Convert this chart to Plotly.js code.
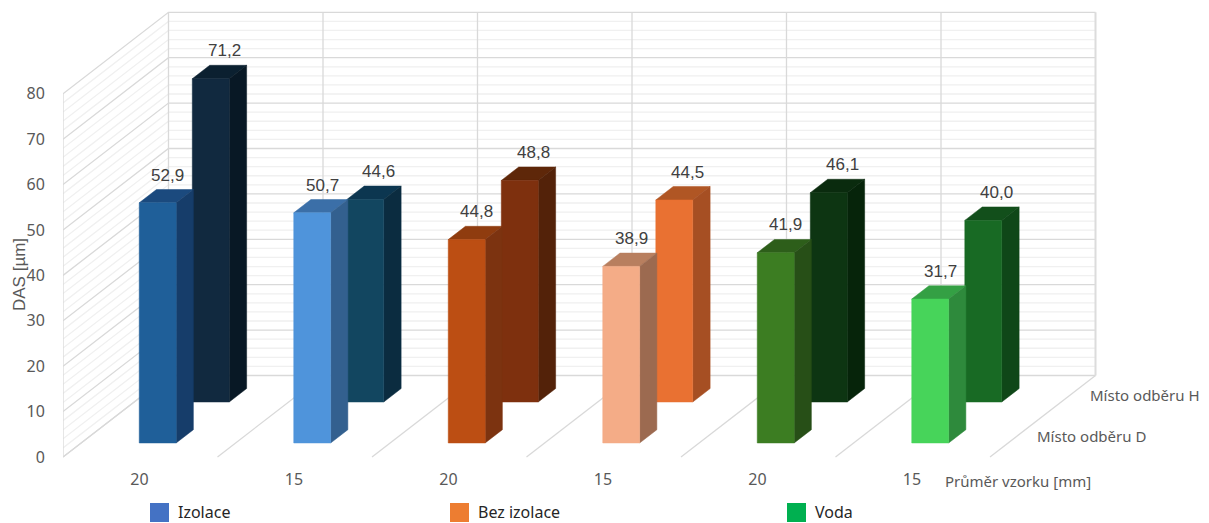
<!DOCTYPE html>
<html><head><meta charset="utf-8">
<script src="https://cdn.plot.ly/plotly-3.0.1.min.js"></script>
<style>html,body{margin:0;padding:0;background:#fff}#c{width:1209px;height:523px}</style>
</head><body><div id="c"></div>
<script>
const categories = ['20','15','20','15','20','15'];
const frontValues = [52.9,50.7,44.8,38.9,41.9,31.7];
const backValues = [71.2,44.6,48.8,44.5,46.1,40.0];
const frontFace = ['#1F5F99','#4F94DB','#BC4E13','#F4AC87','#3C7D22','#47D45A'];
const frontSide = ['#163D6A','#33608F','#7C3310','#9C6A50','#274F17','#2E8A3C'];
const frontTop  = ['#1B4A7E','#3B6FA8','#8F3C0F','#B87F5F','#2D5E1A','#34A044'];
const backFace  = ['#11293F','#124660','#7E300E','#E97132','#0D3512','#186A24'];
const backSide  = ['#081825','#0B2C40','#532209','#A64F23','#06240A','#0F4718'];
const backTop   = ['#0B2030','#0C3650','#5E2709','#B05624','#0A2B0E','#124F1B'];
const legendNames = ['Izolace','Bez izolace','Voda'];
const legendColors = ['#4472C4','#ED7D31','#00B050'];
const rowNames = ['Místo odběru D','Místo odběru H'];

// pixel scale of the axes
const W = 1209, H = 523;
const catPx = 154.5, valPx = 4.54, left = 63, zeroY = 457, plotBottom = 468;
const dx = 105.5 / catPx, dy = 81.5 / valPx;   // depth of the floor in axis units
const X = (c, t) => c + dx * t;
const Y = (v, t) => v + dy * t;
const MAXV = 80, ncat = categories.length;
const traces = [];
function lines(xs, ys, color, width) {
  traces.push({type:'scatter', mode:'lines', x:xs, y:ys, line:{color:color, width:width}, hoverinfo:'skip', showlegend:false});
}
// walls
function grid(step, skip, color, w) {
  const xs = [], ys = [];
  for (let v = 0; v <= MAXV; v += step) {
    if (skip && v % skip === 0) continue;
    xs.push(X(0,0), X(0,1), X(ncat,1), null);
    ys.push(Y(v,0), Y(v,1), Y(v,1), null);
  }
  lines(xs, ys, color, w);
}
grid(2, 10, '#F0F0F0', 1.3);
grid(10, 0, '#D9D9D9', 1.3);
{
  const xs = [], ys = [];
  for (let c = 1; c < ncat; c++) { xs.push(X(c,1), X(c,1), null); ys.push(Y(0,1), Y(MAXV,1), null); }
  for (let c = 0; c <= ncat; c++) { xs.push(X(c,0), X(c,1), null); ys.push(Y(0,0), Y(0,1), null); }
  xs.push(X(0,0), X(0,0), null, X(0,1), X(0,1));
  ys.push(Y(0,0), Y(MAXV,0), null, Y(0,1), Y(MAXV,1));
  lines(xs, ys, '#D9D9D9', 1.3);
  lines([X(ncat,1), X(ncat,1)], [Y(0,1), Y(MAXV,1)], '#DCDCDC', 2);
}
// bars
const c0 = 0.376, c1 = 0.615;
function poly(xs, ys, col) {
  traces.push({type:'scatter', mode:'lines', x:[...xs, xs[0]], y:[...ys, ys[0]], fill:'toself', fillcolor:col,
    line:{color:col, width:0.5}, hoverinfo:'skip', showlegend:false});
}
function bar(i, v, t0, t1, face, side, top) {
  const a = i + c0, b = i + c1;
  poly([X(a,t0),X(b,t0),X(b,t1),X(a,t1)], [Y(v,t0),Y(v,t0),Y(v,t1),Y(v,t1)], top);
  poly([X(b,t0),X(b,t1),X(b,t1),X(b,t0)], [Y(0,t0),Y(0,t1),Y(v,t1),Y(v,t0)], side);
  poly([X(a,t0),X(b,t0),X(b,t0),X(a,t0)], [Y(0,t0),Y(0,t0),Y(v,t0),Y(v,t0)], face);
}
const rows = [[0.172,0.335],[0.675,0.84]];
backValues.forEach((v,i) => bar(i, v, rows[1][0], rows[1][1], backFace[i], backSide[i], backTop[i]));
frontValues.forEach((v,i) => bar(i, v, rows[0][0], rows[0][1], frontFace[i], frontSide[i], frontTop[i]));

const fmt = v => v.toFixed(1).replace('.', ',');
const annotations = [], shapes = [];
function label(i, v, t0, t1, shiftX) {
  annotations.push({x:X(i+0.5,(t0+t1)/2), y:Y(v,t1), text:fmt(v), showarrow:false, yanchor:'bottom', yshift:3, xshift:shiftX,
    font:{family:'Liberation Sans', size:17, color:'#404040'}});
}
frontValues.forEach((v,i) => label(i, v, rows[0][0], rows[0][1], 1));
backValues.forEach((v,i) => label(i, v, rows[1][0], rows[1][1], 4));
rowNames.forEach((n,k) => annotations.push({x:X(ncat,(rows[k][0]+rows[k][1])/2), y:Y(0,(rows[k][0]+rows[k][1])/2), text:n,
  showarrow:false, xanchor:'left', xshift:18, font:{family:'Noto Sans', size:15, color:'#595959'}}));

// text and swatches below the plot area, placed in page fractions
const pxX = p => (p - left) / (W - left);
const pxY = p => (plotBottom - p) / plotBottom;
annotations.push({xref:'paper', yref:'paper', x:pxX(945), y:pxY(481), text:'Průměr vzorku [mm]', showarrow:false, xanchor:'left', yanchor:'middle',
  xshift:-2, font:{family:'Noto Sans', size:15, color:'#595959'}});
annotations.push({xref:'paper', yref:'paper', x:pxX(19), y:pxY(275), text:'DAS [µm]', textangle:-90, showarrow:false, xanchor:'center', yanchor:'middle',
  font:{family:'Liberation Sans', size:17, color:'#595959'}});
const legendX = [150,450,787];
legendNames.forEach((n,i) => {
  shapes.push({type:'rect', xref:'paper', yref:'paper', x0:pxX(legendX[i]), x1:pxX(legendX[i]+19), y0:pxY(522), y1:pxY(503),
    fillcolor:legendColors[i], line:{width:0}, layer:'above'});
  annotations.push({xref:'paper', yref:'paper', x:pxX(legendX[i]+28), y:pxY(512), text:n, showarrow:false, xanchor:'left', yanchor:'middle',
    xshift:-2, font:{family:'Noto Sans', size:16, color:'#262626'}});
});

const layout = {
  width:W, height:H, margin:{l:left, r:0, t:0, b:H-plotBottom, pad:0},
  paper_bgcolor:'#fff', plot_bgcolor:'#fff', showlegend:false, hovermode:false, annotations, shapes,
  xaxis:{range:[0,(W-left)/catPx], tickmode:'array', tickvals:categories.map((_,i)=>i+0.495), ticktext:categories,
    showgrid:false, zeroline:false, showline:false, ticks:'', 
    tickfont:{family:'Noto Sans', size:16, color:'#595959'}},
  yaxis:{range:[(zeroY-plotBottom)/valPx, zeroY/valPx], tickmode:'array', tickvals:[0,10,20,30,40,50,60,70,80],
    showgrid:false, zeroline:false, showline:false, ticks:'outside', ticklen:14, tickcolor:'rgba(0,0,0,0)',
    tickfont:{family:'Noto Sans', size:16, color:'#595959'}}
};
Plotly.newPlot('c', traces, layout, {displayModeBar:false, staticPlot:true});
</script></body></html>
